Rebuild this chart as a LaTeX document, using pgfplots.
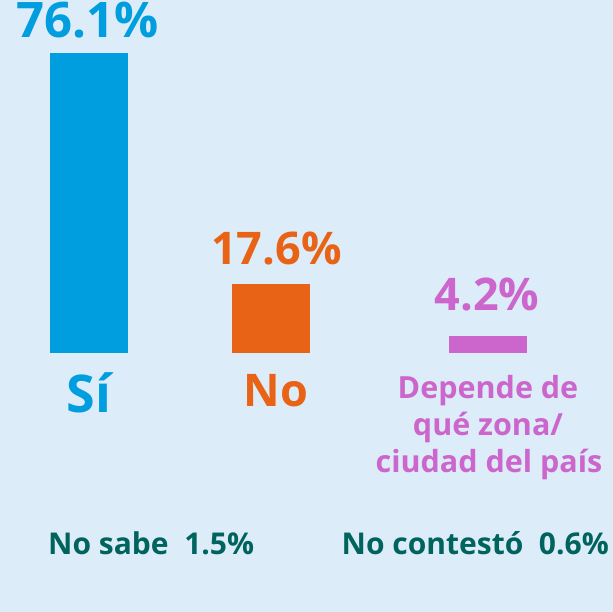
\documentclass[border=0pt]{standalone}
\usepackage{fontspec}
\setmainfont{Open Sans}
\usepackage{pgfplots}
\pgfplotsset{compat=1.18}
\definecolor{bg}{RGB}{220,237,249}
\definecolor{cblue}{RGB}{0,158,222}
\definecolor{corange}{RGB}{232,99,22}
\definecolor{cpink}{RGB}{204,102,204}
\definecolor{cteal}{RGB}{0,99,94}
\begin{document}
\begin{tikzpicture}
\begin{axis}[width=613bp,height=612bp,scale only axis,
  xmin=0,xmax=613,ymin=-65.70,ymax=89.55,
  axis lines=none,ticks=none,
  axis background/.style={fill=bg},
  ybar, bar width=78, bar shift=0pt, clip=false]
\addplot[fill=cblue,draw=none] coordinates {(89,76.1)};
\addplot[fill=corange,draw=none] coordinates {(271,17.6)};
\addplot[fill=cpink,draw=none] coordinates {(488,4.2)};
\node[font=\bfseries\fontsize{49bp}{60bp}\selectfont, text=cblue, anchor=base, inner sep=0pt] at (axis cs:87.5,79.91) {76.1\%};
\node[font=\bfseries\fontsize{45bp}{52bp}\selectfont, text=corange, anchor=base, inner sep=0pt] at (axis cs:276.5,22.45) {17.6\%};
\node[font=\bfseries\fontsize{45bp}{52bp}\selectfont, text=cpink, anchor=base, inner sep=0pt] at (axis cs:487,10.75) {4.2\%};
\node[font=\bfseries\fontsize{52bp}{60bp}\selectfont, text=cblue, anchor=base, inner sep=0pt] at (axis cs:89,-14.97) {Sí};
\node[font=\bfseries\fontsize{45bp}{55bp}\selectfont, text=corange, anchor=base, inner sep=0pt] at (axis cs:276,-13.62) {No};
\node[font=\bfseries\fontsize{30.5bp}{37.5bp}\selectfont, text=cpink, anchor=base, inner sep=0pt] at (axis cs:488,-11.49) {Depende de};
\node[font=\bfseries\fontsize{30.5bp}{37.5bp}\selectfont, text=cpink, anchor=base, inner sep=0pt] at (axis cs:488,-21.05) {qué zona/};
\node[font=\bfseries\fontsize{30.5bp}{37.5bp}\selectfont, text=cpink, anchor=base, inner sep=0pt] at (axis cs:489,-30.44) {ciudad del país};
\node[font=\bfseries\fontsize{30bp}{37.5bp}\selectfont, text=cteal, anchor=base west, inner sep=0pt] at (axis cs:48,-51.24) {No sabe\ \ 1.5\%};
\node[font=\bfseries\fontsize{30bp}{37.5bp}\selectfont, text=cteal, anchor=base east, inner sep=0pt] at (axis cs:609,-51.24) {No contestó\ \ 0.6\%};
\end{axis}
\pgfresetboundingbox
\useasboundingbox (current axis.south west) rectangle (current axis.north east);
\end{tikzpicture}
\end{document}
